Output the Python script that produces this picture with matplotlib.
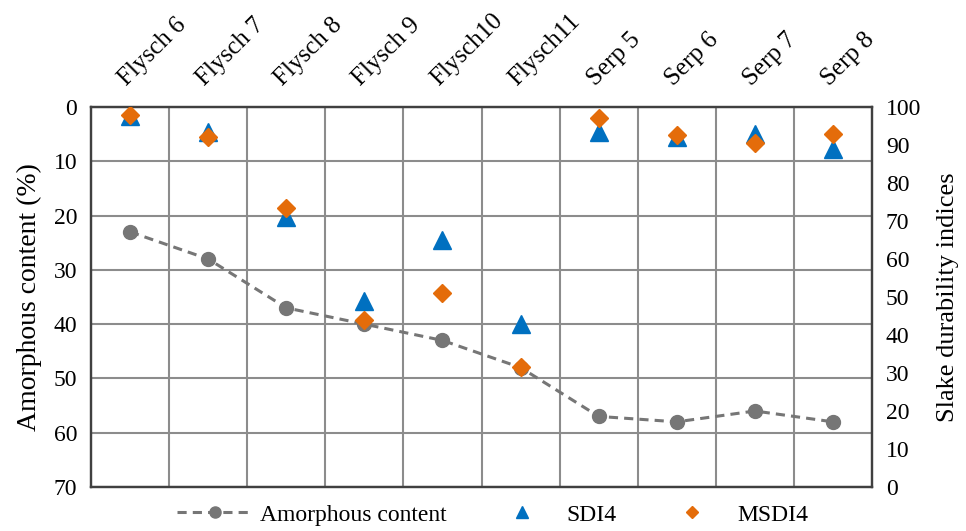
import matplotlib.pyplot as plt
import matplotlib.ticker as mticker
from matplotlib.lines import Line2D

plt.rcParams['font.family'] = ['Liberation Serif', 'DejaVu Serif']

##-----------------------------
## data
##-----------------------------
samples = ["Flysch 6", "Flysch 7", "Flysch 8", "Flysch 9", "Flysch10",
           "Flysch11", "Serp 5", "Serp 6", "Serp 7", "Serp 8"]
amorphous = [23, 28, 37, 40, 43, 48, 57, 58, 56, 58]
sdi4 = [97.5, 93.5, 71, 49, 65, 43, 93.5, 92, 93, 89]
msdi4 = [98, 92, 73.5, 44, 51, 31.5, 97, 92.5, 90.5, 93]

xs = list(range(len(samples)))

c_amor = "#767676"
c_sdi = "#0070C0"
c_msdi = "#E46C0A"
grid_c = "#8C8C8C"

##-----------------------------
## plot
##-----------------------------
fig = plt.figure(figsize=(9.66, 5.31), dpi=100)
ax = fig.add_axes([0.0942, 0.0829, 0.8085, 0.7156])
ax2 = ax.twinx()

ax.plot(xs, amorphous, color=c_amor, linestyle=(0, (3, 2)), linewidth=2.2,
        marker="o", markersize=10, label="Amorphous content", zorder=3)
ax2.plot(xs, sdi4, linestyle="none", marker="^", markersize=13, color=c_sdi,
         label="SDI4", zorder=3)
ax2.plot(xs, msdi4, linestyle="none", marker="D", markersize=9, color=c_msdi,
         label="MSDI4", zorder=4)

## left axis (inverted)
ax.set_ylim(70, 0)
ax.yaxis.set_major_locator(mticker.MultipleLocator(10))
ax.set_ylabel("Amorphous content (%)", fontsize=20, labelpad=8)

## right axis
ax2.set_ylim(0, 100)
ax2.yaxis.set_major_locator(mticker.MultipleLocator(10))
ax2.set_ylabel("Slake durability indices", fontsize=19, labelpad=11)

## x categories on top
ax.set_xlim(-0.5, len(samples) - 0.5)
ax.xaxis.set_major_locator(mticker.FixedLocator(xs))
ax.xaxis.set_minor_locator(mticker.FixedLocator([x + 0.5 for x in xs[:-1]]))
ax.xaxis.tick_top()
ax.set_xticklabels(samples, rotation=45, ha="left", rotation_mode="anchor",
                   fontsize=18)

ax.tick_params(axis="x", which="both", length=0, pad=12)
ax.tick_params(axis="y", length=0, labelsize=17, pad=10)
ax2.tick_params(axis="y", length=0, labelsize=17, pad=10)

## grid
ax.grid(True, axis="y", which="major", color=grid_c, linewidth=1.5)
ax.grid(True, axis="x", which="minor", color=grid_c, linewidth=1.5)
ax.set_axisbelow(True)

for a in (ax, ax2):
    for s in a.spines.values():
        s.set_color("#404040")
        s.set_linewidth(1.6)

## legend
handles = [
    Line2D([], [], color=c_amor, linestyle=(0, (3, 2)), linewidth=2.2,
           marker="o", markersize=8),
    Line2D([], [], linestyle="none", marker="^", markersize=9, color=c_sdi),
    Line2D([], [], linestyle="none", marker="D", markersize=6, color=c_msdi),
]
fig.legend(handles, ["Amorphous content", "SDI4", "MSDI4"], loc="lower center",
           bbox_to_anchor=(0.51, -0.03), ncol=3, frameon=False, fontsize=17,
           handlelength=3.2, columnspacing=1.6, handletextpad=0.3)

plt.savefig("out.png", dpi=100)
